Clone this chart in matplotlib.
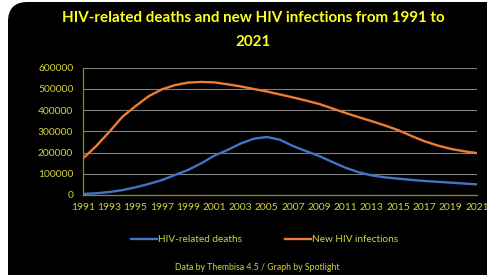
import matplotlib
matplotlib.use("Agg")
import matplotlib.pyplot as plt
from matplotlib.patches import FancyBboxPatch
from matplotlib.lines import Line2D

years = list(range(1991, 2022))
deaths = [5000, 8000, 14000, 23000, 36000, 52000, 70000, 94000, 118000, 149000,
          185000, 212000, 242000, 265000, 273000, 260000, 230000, 206000, 183000, 155000,
          128000, 107000, 92000, 83000, 77000, 71000, 66000, 62000, 58000, 54000, 50000]
infections = [172000, 230000, 297000, 368000, 418000, 465000, 497000, 517000, 529000, 532000,
              530000, 521000, 511000, 499000, 487000, 473000, 459000, 444000, 428000, 407000,
              386000, 366000, 347000, 327000, 305000, 278000, 253000, 233000, 217000, 206000, 197000]
yticks = [0, 100000, 200000, 300000, 400000, 500000, 600000]
xticks = list(range(1991, 2022, 2))

title = "HIV-related deaths and new HIV infections from 1991 to\n2021"
footer = "Data by Thembisa 4.5 / Graph by Spotlight"

plt.rcParams['font.family'] = ['Lato', 'DejaVu Sans']

W, H = 487, 275
fig = plt.figure(figsize=(W / 100, H / 100), dpi=100)
fig.patch.set_facecolor('white')

bg = FancyBboxPatch((8 / W, -0.1), 1.2, 1.1 - 2 / H,
                    boxstyle="round,pad=0,rounding_size=0.04",
                    transform=fig.transFigure, facecolor='black', edgecolor='none',
                    mutation_aspect=W / H, zorder=-5)
fig.patches.append(bg)

ax = fig.add_axes([83 / W, 1 - 195 / H, (477 - 83) / W, (195 - 67.5) / H])
ax.set_zorder(2)
ax.patch.set_alpha(0)

ax.plot(years, deaths, color='#4472C4', lw=1.7, solid_capstyle='round', solid_joinstyle='round')
ax.plot(years, infections, color='#ED7D31', lw=1.7, solid_capstyle='round', solid_joinstyle='round')

ax.set_xlim(1991, 2021)
ax.set_ylim(0, 600000)
ax.set_xticks(xticks)
ax.set_yticks(yticks)
ax.set_xticklabels([str(x) for x in xticks])
ax.set_yticklabels([str(y) for y in yticks])
ax.grid(axis='y', color='#7f7f7f', lw=0.8)
ax.set_axisbelow(True)
for s in ['top', 'right']:
    ax.spines[s].set_visible(False)
for s in ['left', 'bottom']:
    ax.spines[s].set_color('#8a8a1a')
    ax.spines[s].set_linewidth(0.9)
ax.tick_params(axis='both', length=0, colors='#d4d43a', labelsize=7.4)
ax.tick_params(axis='x', pad=6)
ax.tick_params(axis='y', pad=7)

fig.text(253 / W, 1 - 30 / H, title, ha='center', va='center', color='#ffff1a',
         fontsize=10.9, fontweight='bold', linespacing=2.0)

handles = [Line2D([], [], color='#4472C4', lw=1.7),
           Line2D([], [], color='#ED7D31', lw=1.7)]
leg = fig.legend(handles, ['HIV-related deaths', 'New HIV infections'],
                 loc='center', bbox_to_anchor=(265 / W, 1 - 240 / H), ncol=2,
                 frameon=False, fontsize=7.2, handlelength=2.6, handletextpad=0.1,
                 columnspacing=4.3, labelcolor='#d4d43a')

fig.text(257 / W, 1 - 267 / H, footer, ha='center', va='center', color='#d4d43a', fontsize=6.3)

fig.savefig('out.png', dpi=100, facecolor='white')
